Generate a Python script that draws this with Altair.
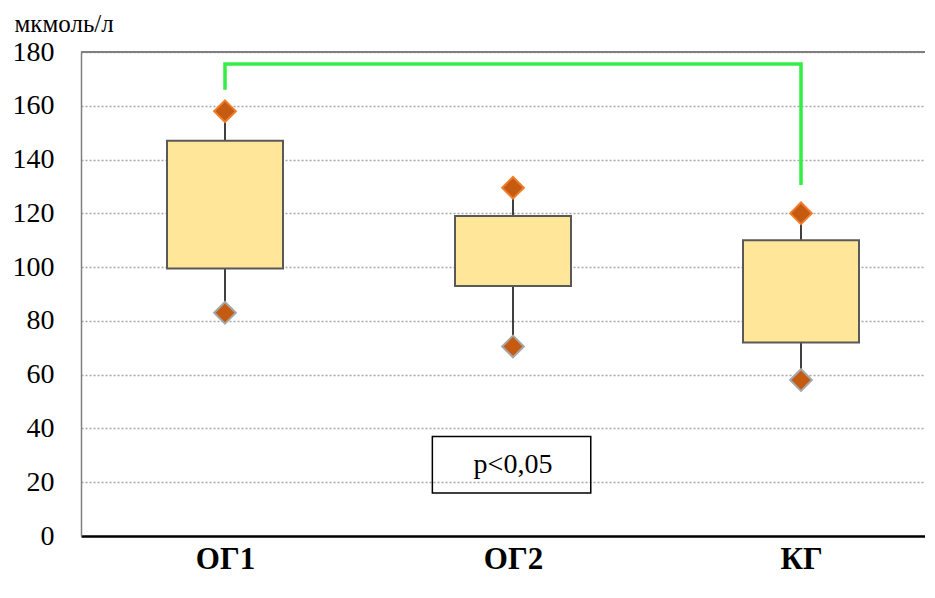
import json
import altair as alt
import pandas as pd

# ---- data ----
categories = ["ОГ1", "ОГ2", "КГ"]
q1 = [99.5, 93.0, 72.0]      # box bottom
q3 = [147.0, 119.0, 110.0]   # box top
low = [83.0, 70.5, 58.0]     # lower diamond
high = [158.0, 129.5, 120.0] # upper diamond

bracket_idx = [0, 0, 2, 2]
bracket_val = [166.0, 175.5, 175.5, 130.5]

p_label = "p<0,05"
p_box_x = [0.72, 1.27]
p_box_y = [16.0, 37.0]
p_text_pos = [1.0, 26.5]

y_ticks = [0, 20, 40, 60, 80, 100, 120, 140, 160, 180]
y_title = "мкмоль/л"

# ---- tables ----
idx = list(range(len(categories)))
box = pd.DataFrame({"i": idx, "q1": q1, "q3": q3, "low": low, "high": high})
pts = pd.DataFrame({"i": idx + idx, "v": high + low, "end": ["max"] * 3 + ["min"] * 3})
br = pd.DataFrame({"i": bracket_idx, "v": bracket_val, "o": list(range(len(bracket_idx)))})
pbox = pd.DataFrame({"x1": [p_box_x[0]], "x2": [p_box_x[1]], "y1": [p_box_y[0]], "y2": [p_box_y[1]],
                     "xm": [p_text_pos[0]], "ym": [p_text_pos[1]], "label": [p_label]})

W, H = 844, 484
SERIF = "Liberation Serif, 'Times New Roman', 'DejaVu Serif', serif"

xs = alt.Scale(domain=[-0.5, -0.5 + W / 288.0], nice=False, zero=False, padding=0)
ys = alt.Scale(domain=[0, 180], nice=False, zero=True)

label_expr = json.dumps(categories, ensure_ascii=False) + "[datum.value]"
xaxis = alt.Axis(values=idx, labelExpr=label_expr, grid=False, ticks=False,
                 domainColor="#000000", domainWidth=2.5, labelFont=SERIF,
                 labelFontSize=31, labelFontWeight="bold", labelColor="#000000",
                 labelBaseline="bottom", labelPadding=39, title=None)
yaxis = alt.Axis(values=y_ticks, grid=True, gridColor="#A6A6A6", gridDash=[2, 2],
                 gridWidth=1.3, ticks=False, domainColor="#808080", domainWidth=1.5,
                 labelFont=SERIF, labelFontSize=28, labelColor="#000000", labelPadding=27,
                 title=y_title, titleAngle=0, titleX=-67, titleY=-21, titleAlign="left",
                 titleBaseline="alphabetic", titleFont=SERIF, titleFontSize=25,
                 titleFontWeight="normal", titleColor="#000000")

def X(f):
    return alt.X(f, type="quantitative", scale=xs, axis=xaxis)

def Y(f):
    return alt.Y(f, type="quantitative", scale=ys, axis=yaxis)

whisk = alt.Chart(box).mark_rule(color="#404040", strokeWidth=2).encode(
    x=X("i"), y=Y("low"), y2="high")

bars = alt.Chart(box).mark_bar(size=116, fill="#FFE699", stroke="#595959", strokeWidth=2).encode(
    x=X("i"), y=Y("q1"), y2="q3")

dia = alt.Chart(pts).mark_point(shape="diamond", filled=True, size=470, fill="#C55A11",
                                strokeWidth=2, fillOpacity=1, strokeOpacity=1).encode(
    x=X("i"), y=Y("v"),
    stroke=alt.Stroke("end:N", scale=alt.Scale(domain=["max", "min"], range=["#F07D2A", "#A6A6A6"]),
                      legend=None))

bracket = alt.Chart(br).mark_line(color="#33EE44", strokeWidth=3.5, strokeJoin="miter").encode(
    x=X("i"), y=Y("v"), order="o:Q")

prect = alt.Chart(pbox).mark_rect(fillOpacity=0, stroke="#000000", strokeWidth=1.5).encode(
    x=X("x1"), x2="x2", y=Y("y1"), y2="y2")

ptext = alt.Chart(pbox).mark_text(font=SERIF, fontSize=28, color="#000000",
                                  align="center", baseline="middle").encode(
    x=X("xm"), y=Y("ym"), text="label:N")

topline = alt.Chart(pbox).mark_rule(color="#808080", strokeWidth=2).encode(
    y=alt.datum(180, scale=ys), x=alt.value(0), x2=alt.value(W))

chart = alt.layer(whisk, bars, dia, bracket, prect, ptext, topline).properties(
    width=W, height=H,
    autosize=alt.AutoSizeParams(type="none"),
    padding={"left": 73, "top": 44, "right": 0, "bottom": 48},
    background="#FFFFFF",
).configure_view(stroke="transparent", strokeWidth=0, strokeOpacity=0)

chart.save("out.html", embed_options={"renderer": "svg", "actions": False})
